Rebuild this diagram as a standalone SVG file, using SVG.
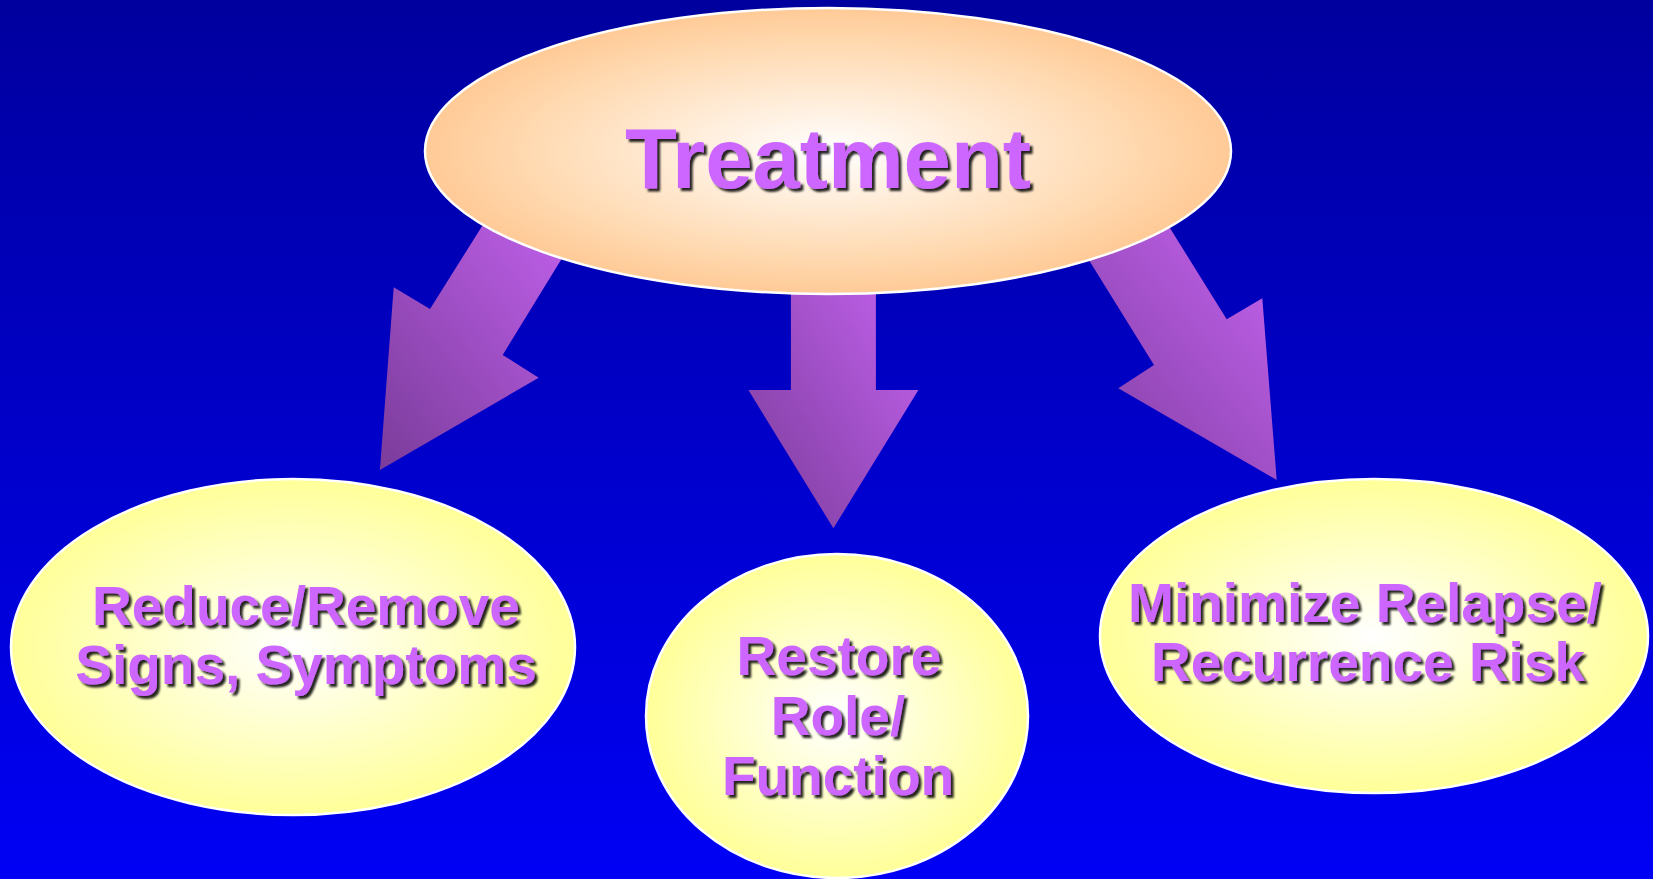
<svg xmlns="http://www.w3.org/2000/svg" width="1653" height="879" viewBox="0 0 1653 879">
<defs>
<linearGradient id="bg" x1="0" y1="0" x2="0" y2="1">
<stop offset="0" stop-color="#00009E"/>
<stop offset="1" stop-color="#0000F5"/>
</linearGradient>
<linearGradient id="arrowGrad" x1="1" y1="0" x2="0" y2="1">
<stop offset="0" stop-color="#C864F4"/>
<stop offset="1" stop-color="#7A3C9A"/>
</linearGradient>
<radialGradient id="peach" cx="0.5" cy="0.5" r="0.5">
<stop offset="0" stop-color="#FFFFFF"/>
<stop offset="0.75" stop-color="#FFD9B0"/>
<stop offset="1" stop-color="#FFCA96"/>
</radialGradient>
<radialGradient id="yellow" cx="0.5" cy="0.5" r="0.5">
<stop offset="0" stop-color="#FFFFFF"/>
<stop offset="0.7" stop-color="#FFFFB8"/>
<stop offset="1" stop-color="#FFFF99"/>
</radialGradient>
<filter id="shadow" x="-10%" y="-20%" width="130%" height="150%">
<feDropShadow dx="3" dy="3" stdDeviation="1.2" flood-color="#000000" flood-opacity="0.85"/>
</filter>
</defs>
<style>
.arrow { fill: url(#arrowGrad); }
.top { fill: url(#peach); stroke: #FFFFFF; stroke-width: 2.5; }
.bub { fill: url(#yellow); stroke: #FFFFFF; stroke-width: 2.5; }
.lbl { font-family: "Liberation Sans", Arial, sans-serif; font-weight: bold; fill: #CC66FF; text-anchor: middle; filter: url(#shadow); }
</style>
<rect x="0" y="0" width="1653" height="879" fill="url(#bg)"/>
<g id="connectors">
<polygon class="arrow" points="498.5,200 430,309 393.7,287.3 379.9,470 538.7,377.7 502.7,355 597.7,200"/>
<polygon class="arrow" points="790.9,250 790.9,390 748.4,390 833.4,528.3 918.4,390 875.9,390 875.9,250"/>
<polygon class="arrow" points="1051.7,200 1154,365 1118.3,388.3 1276.7,480 1262.3,298.3 1226.7,319.3 1152.5,200"/>
</g>
<g id="treatment">
<ellipse class="top" cx="828" cy="151" rx="403" ry="143"/>
<text class="lbl" x="828" y="188" font-size="85">Treatment</text>
</g>
<g id="reduce">
<ellipse class="bub" cx="293" cy="647" rx="282" ry="168"/>
<text class="lbl" x="306" y="625" font-size="55">Reduce/Remove</text>
<text class="lbl" x="306" y="684" font-size="55">Signs, Symptoms</text>
</g>
<g id="restore">
<ellipse class="bub" cx="837" cy="716" rx="191" ry="162"/>
<text class="lbl" x="839" y="675" font-size="55">Restore</text>
<text class="lbl" x="838" y="735" font-size="55">Role/</text>
<text class="lbl" x="838" y="795" font-size="55">Function</text>
</g>
<g id="minimize">
<ellipse class="bub" cx="1374" cy="636" rx="274" ry="157"/>
<text class="lbl" x="1365" y="622" font-size="55">Minimize Relapse/</text>
<text class="lbl" x="1368" y="681" font-size="55">Recurrence Risk</text>
</g>
</svg>
